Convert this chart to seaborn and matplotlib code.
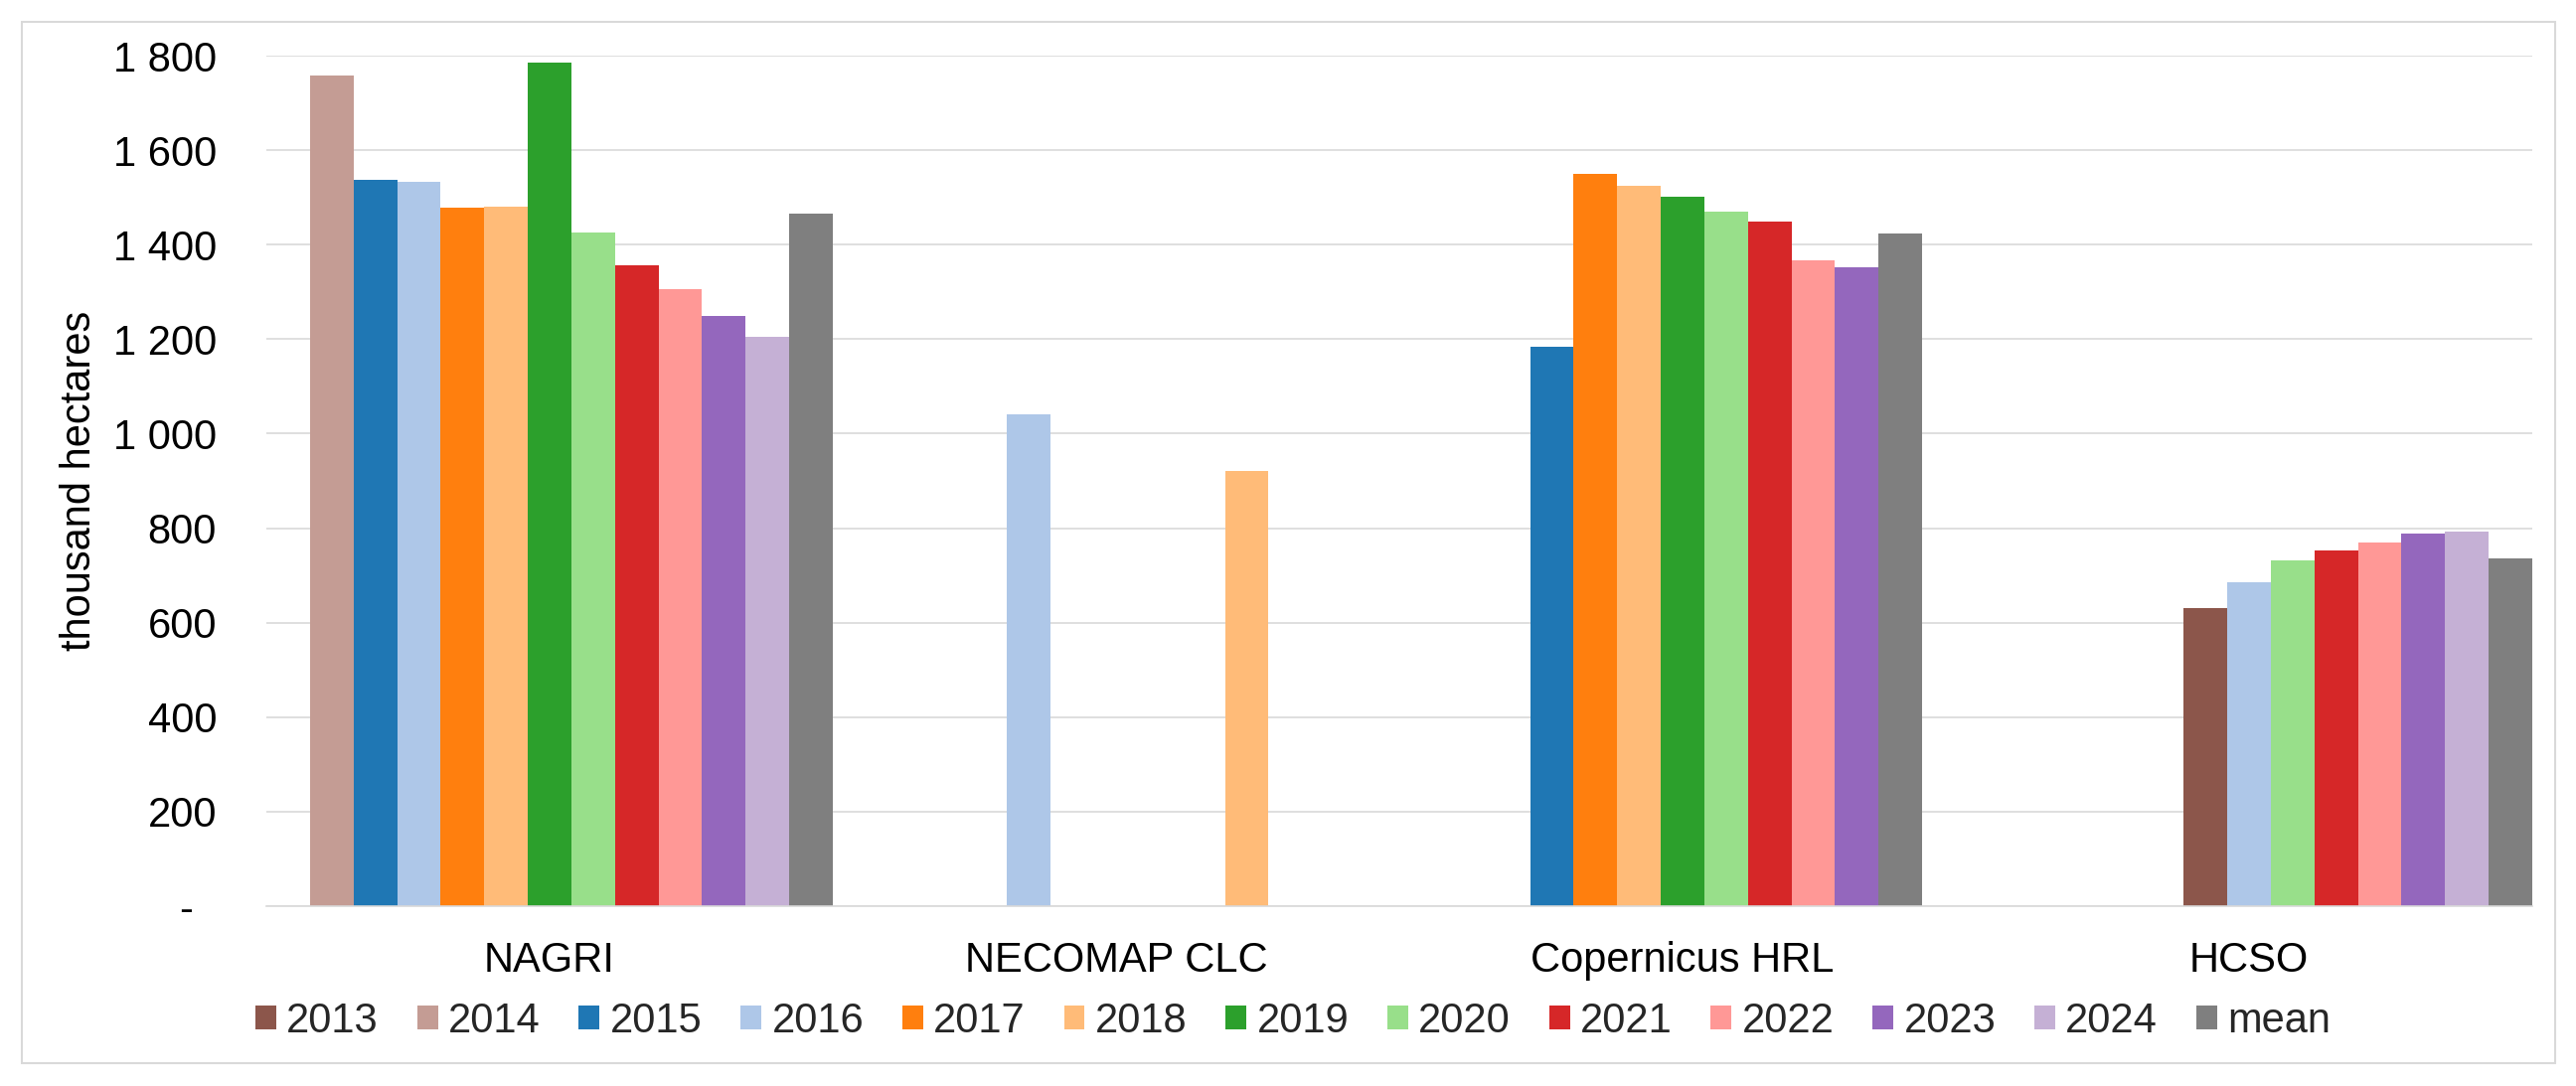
import matplotlib
matplotlib.use("Agg")
import matplotlib.pyplot as plt
from matplotlib.patches import Patch, Rectangle
from matplotlib.ticker import FuncFormatter, MultipleLocator
import seaborn as sns
import pandas as pd

# ---------------- data ----------------
series_labels = ["2013", "2014", "2015", "2016", "2017", "2018", "2019",
                 "2020", "2021", "2022", "2023", "2024", "mean"]
series_colors = ["#8c564b", "#c49c94", "#1f77b4", "#aec7e8", "#ff7f0e",
                 "#ffbb78", "#2ca02c", "#98df8a", "#d62728", "#ff9896",
                 "#9467bd", "#c5b0d5", "#7f7f7f"]

groups = ["NAGRI", "NECOMAP CLC", "Copernicus HRL", "HCSO"]

# 13 slots per group: which series sits in each slot (None = empty slot)
nagri_series = [None, "2014", "2015", "2016", "2017", "2018", "2019",
                "2020", "2021", "2022", "2023", "2024", "mean"]
nagri_values = [None, 1758, 1537, 1532, 1479, 1480, 1786,
                1425, 1356, 1305, 1249, 1205, 1465]

necomap_series = [None, None, None, None, "2016", None, None,
                  None, None, "2018", None, None, None]
necomap_values = [None, None, None, None, 1040, None, None,
                  None, None, 921, None, None, None]

copernicus_series = [None, None, None, "2015", "2017", "2018", "2019",
                     "2020", "2021", "2022", "2023", "mean", None]
copernicus_values = [None, None, None, 1183, 1550, 1524, 1501,
                     1469, 1448, 1367, 1353, 1424, None]

hcso_series = [None, None, None, None, None, "2013", "2016",
               "2020", "2021", "2022", "2023", "2024", "mean"]
hcso_values = [None, None, None, None, None, 631, 685,
               731, 753, 770, 789, 792, 736]

y_label = "thousand hectares"

group_series = [nagri_series, necomap_series, copernicus_series, hcso_series]
group_values = [nagri_values, necomap_values, copernicus_values, hcso_values]

# ---------------- build table ----------------
slot_order = []
rows = []
for g, ser, vals in zip(groups, group_series, group_values):
    for i, (s, v) in enumerate(zip(ser, vals)):
        key = f"{g}|{i}"
        slot_order.append(key)
        if s is not None:
            rows.append({"slot": key, "group": g, "series": s, "value": v})
df = pd.DataFrame(rows)
n_slots = len(nagri_series)

# ---------------- style ----------------
sns.set_theme(style="white")
plt.rcParams["font.family"] = ["Liberation Sans", "DejaVu Sans"]
FS = 30
GRID = "#d9d9d9"

fig = plt.figure(figsize=(25.92, 10.93), dpi=100)
ax = fig.add_axes([268 / 2592, 1 - 912 / 1093, (2548 - 268) / 2592, (912 - 56) / 1093])

palette = dict(zip(series_labels, series_colors))
sns.barplot(data=df, x="slot", y="value", hue="series", order=slot_order,
            hue_order=series_labels, palette=palette, dodge=False,
            width=1.0, errorbar=None, legend=False, saturation=1.0,
            linewidth=0, ax=ax)

# axes
ax.set_ylim(0, 1800)
ax.set_xlim(-0.5, len(slot_order) - 0.5)
ax.yaxis.set_major_locator(MultipleLocator(200))
ax.yaxis.set_major_formatter(FuncFormatter(
    lambda v, p: "-  " if abs(v) < 1e-9 else f"{v:,.0f}".replace(",", " ")))
ax.set_xticks([k * n_slots + (n_slots - 1) / 2 for k in range(len(groups))])
ax.set_xticklabels(groups)
ax.tick_params(axis="both", length=0, labelsize=FS, colors="black")
ax.tick_params(axis="x", pad=25)
ax.tick_params(axis="y", pad=36)
ax.set_xlabel("")
ax.set_ylabel(y_label, fontsize=FS, color="black")
ax.yaxis.set_label_coords(-0.0737, 0.5)

ax.set_axisbelow(True)
ax.yaxis.grid(True, color=GRID, linewidth=1.2)
ax.xaxis.grid(False)
for side in ["top", "right", "left"]:
    ax.spines[side].set_visible(False)
ax.spines["bottom"].set_color(GRID)
ax.spines["bottom"].set_linewidth(1.2)

# legend
handles = [Patch(facecolor=c, edgecolor="none", label=l)
           for l, c in zip(series_labels, series_colors)]
fig.legend(handles=handles, loc="center", bbox_to_anchor=(0.502, 1 - 1028 / 1093),
           ncol=len(handles), frameon=False, fontsize=FS,
           handlelength=0.5, handleheight=0.5, handletextpad=0.25,
           columnspacing=0.93, borderaxespad=0)

# chart-area border
fig.patches.append(Rectangle((22 / 2592, 1 - 1070 / 1093),
                             (2571 - 22) / 2592, (1070 - 22) / 1093,
                             transform=fig.transFigure, fill=False,
                             edgecolor=GRID, linewidth=1.5))

fig.savefig("out.png", dpi=100, facecolor="white")
